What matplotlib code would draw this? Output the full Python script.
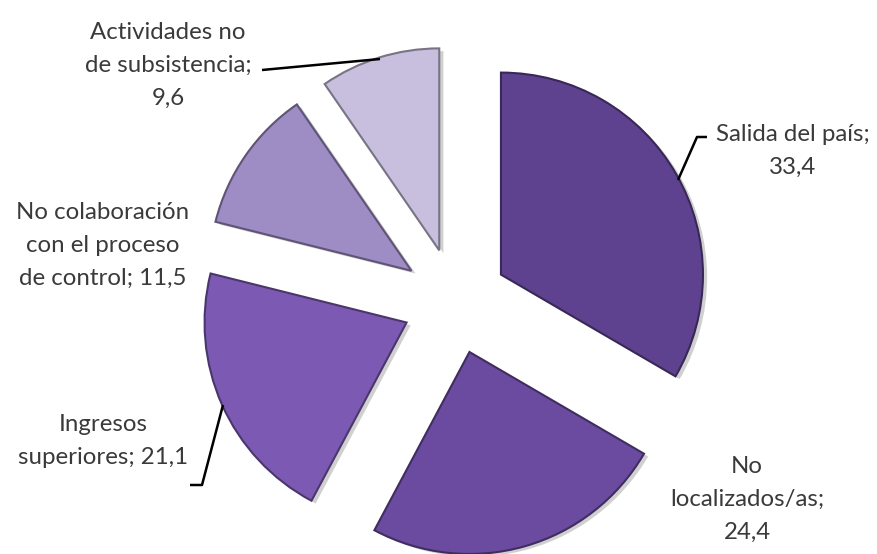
import matplotlib
matplotlib.use("Agg")
import matplotlib.pyplot as plt
import matplotlib.patheffects as pe
from matplotlib.colors import to_rgb

# Categories and shares (%)
names = [
    "Salida del país",
    "No\nlocalizados/as",
    "Ingresos\nsuperiores",
    "No colaboración\ncon el proceso\nde control",
    "Actividades no\nde subsistencia",
]
values = [33.4, 24.4, 21.1, 11.5, 9.6]
separators = [";\n", ";\n", "; ", "; ", ";\n"]
colors = ["#5E4290", "#6A4BA0", "#7C5AB3", "#9E8CC4", "#C8BFDE"]

W, H = 877, 554
fig = plt.figure(figsize=(W / 100, H / 100), dpi=100)
ax = fig.add_axes([0, 0, 1, 1])


def P(x, y):
    """Pixel position (origin top-left) to data coordinates."""
    return (x, H - y)


R = 202
E = 53
center = P(455, 301)

edge_colors = [tuple(c * 0.6 for c in to_rgb(col)) for col in colors]

wedges, _ = ax.pie(
    values,
    radius=R,
    center=center,
    startangle=90,
    counterclock=False,
    explode=[E] * len(values),
    colors=colors,
    wedgeprops=dict(linewidth=1.5),
)
for w, ec in zip(wedges, edge_colors):
    w.set_edgecolor(ec)
    w.set_path_effects([
        pe.SimplePatchShadow(offset=(3, -2), shadow_rgbFace="#7a7a7a", alpha=0.35),
        pe.Normal(),
    ])

ax.set_xlim(0, W)
ax.set_ylim(0, H)
ax.set_aspect("equal")
ax.axis("off")


def fmt(v):
    return f"{v:.1f}".replace(".", ",")


labels = [n + s + fmt(v) for n, s, v in zip(names, separators, values)]

# label anchor positions (pixels, center of text block), same order as names
label_pos = [(793, 151), (747, 499), (103, 441), (103, 245), (168, 65)]

text_kw = dict(ha="center", va="center", fontsize=17.3, color="#3a3a3a",
               family=["Lato", "DejaVu Sans"], linespacing=1.7)
for lab, (x, y) in zip(labels, label_pos):
    ax.text(*P(x, y), lab, **text_kw)

# leader lines
leaders = [
    [(678, 180), (697, 137), (707, 137)],
    [(190, 485), (202, 485), (223, 405)],
    [(262, 70), (380, 59)],
]
for pts in leaders:
    xs, ys = zip(*[P(x, y) for x, y in pts])
    ax.plot(xs, ys, color="black", linewidth=1.8, solid_capstyle="butt")

fig.savefig("out.png", dpi=100, facecolor="white")
